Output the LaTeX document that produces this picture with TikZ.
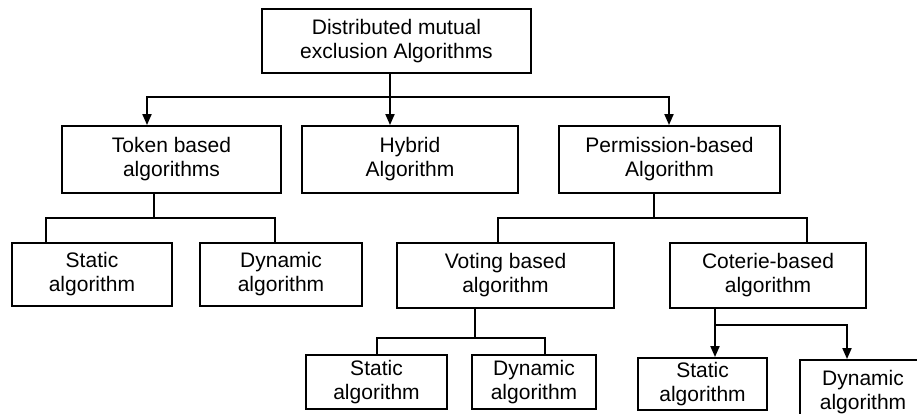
\documentclass[tikz,border=0pt]{standalone}
\usepackage{fontspec}
\setmainfont{Liberation Sans}
\usetikzlibrary{arrows.meta}
\begin{document}
\begin{tikzpicture}[x=1pt,y=-1pt,
  box/.style={draw, line width=1.9pt, inner sep=0pt, align=center,
    font=\fontsize{21}{24}\selectfont},
  link/.style={line width=1.9pt},
  arr/.style={line width=1.9pt, -{Triangle[length=11pt,width=9pt]}}]
\useasboundingbox (0,0) rectangle (917,413);
\clip (0,0) rectangle (917,413);
% nodes
\node[box, minimum width=269pt, minimum height=64pt] (root) at (396.5,41) {Distributed mutual\\exclusion Algorithms};
\node[box, minimum width=219pt, minimum height=67pt] (token) at (171.5,159.5) {Token based\\algorithms};
\node[box, minimum width=216pt, minimum height=67pt] (hybrid) at (410,159.5) {Hybrid\\Algorithm};
\node[box, minimum width=221pt, minimum height=67pt] (perm) at (669.5,159.5) {Permission-based\\Algorithm};
\node[box, minimum width=160pt, minimum height=63pt] (static1) at (92,274.5) {Static\\algorithm};
\node[box, minimum width=162pt, minimum height=63pt] (dyn1) at (281,274.5) {Dynamic\\algorithm};
\node[box, minimum width=217pt, minimum height=65pt] (voting) at (505.5,275.5) {Voting based\\algorithm};
\node[box, minimum width=196pt, minimum height=65pt] (coterie) at (768,275.5) {Coterie-based\\algorithm};
\node[box, minimum width=141pt, minimum height=54pt] (static2) at (376.5,382) {Static\\algorithm};
\node[box, minimum width=124pt, minimum height=54pt] (dyn2) at (534,382) {Dynamic\\algorithm};
\node[box, minimum width=129pt, minimum height=52pt] (static3) at (702.5,384) {Static\\algorithm};
\node[box, minimum width=126pt, minimum height=64pt] (dyn3) at (863,392) {Dynamic\\algorithm};
% junction coordinates
\coordinate (bus0) at (390,97);
\coordinate (bus1) at (154,218);
\coordinate (bus2) at (654,218);
\coordinate (bus3) at (475,338);
\coordinate (bus4) at (715,325);
% level 1
\draw[arr] ([xshift=-6.5pt]root.south) -- ([xshift=-20pt]hybrid.north);
\draw[arr] (bus0) -| ([xshift=-24.5pt]token.north);
\draw[arr] (bus0) -| ([xshift=-0.5pt]perm.north);
% token children
\draw[link] ([xshift=-17.5pt]token.south) -- (bus1);
\draw[link] (bus1) -| ([xshift=-46pt]static1.north);
\draw[link] (bus1) -| ([xshift=-6pt]dyn1.north);
% permission children
\draw[link] ([xshift=-15.5pt]perm.south) -- (bus2);
\draw[link] (bus2) -| ([xshift=-7.5pt]voting.north);
\draw[link] (bus2) -| ([xshift=39pt]coterie.north);
% voting children
\draw[link] ([xshift=-30.5pt]voting.south) -- (bus3);
\draw[link] (bus3) -| ([xshift=0.5pt]static2.north);
\draw[link] (bus3) -| ([xshift=11pt]dyn2.north);
% coterie children
\draw[link] ([xshift=-53pt]coterie.south) -- (bus4);
\draw[arr] (bus4) -- ([xshift=12.5pt]static3.north);
\draw[arr] (bus4) -| ([xshift=-16pt]dyn3.north);
\end{tikzpicture}
\end{document}
